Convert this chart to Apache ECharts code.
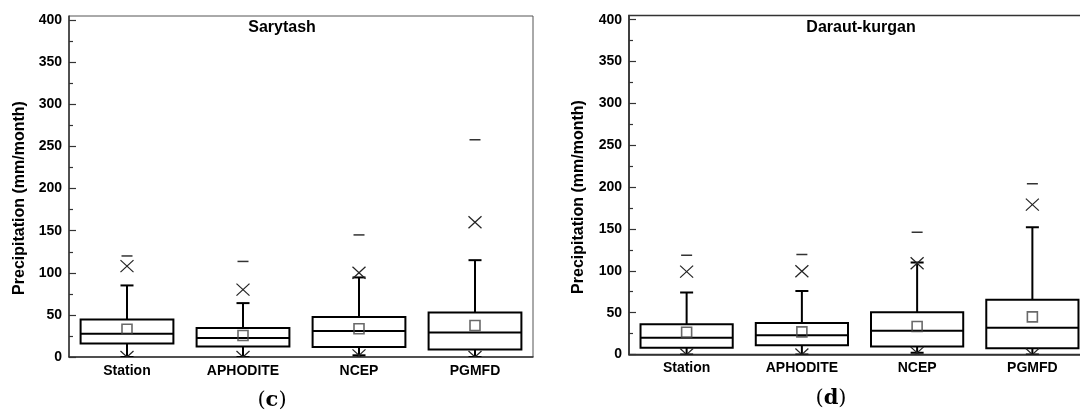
<!DOCTYPE html>
<html>
<head>
<meta charset="utf-8">
<script src="https://cdn.jsdelivr.net/npm/echarts@6/dist/echarts.min.js"></script>
<style>
  html, body { margin: 0; padding: 0; background: #fff; }
  #chart { width: 1080px; height: 414px; }
</style>
</head>
<body>
<div id="chart"></div>
<script>
var categories = ['Station', 'APHODITE', 'NCEP', 'PGMFD'];
var yTicks = [0, 50, 100, 150, 200, 250, 300, 350, 400];
var yMinorTicks = [25, 75, 125, 175, 225, 275, 325, 375];

// (c) Sarytash
var sarMax    = [120, 113.5, 145, 258];
var sarP99    = [108, 80, 100, 160];
var sarUpper  = [85, 64, 94.5, 115];
var sarQ3     = [44.5, 34.5, 47.5, 53];
var sarMedian = [27.5, 22.5, 31, 29];
var sarMean   = [33, 25.5, 33.5, 37.5];
var sarQ1     = [16, 12.5, 12, 9];
var sarLower  = [0, 0, 2, 0];
var sarP1     = [0, 0, 2, 0];

// (d) Daraut-kurgan
var darMax    = [118.5, 119.5, 146, 204];
var darP99    = [99, 99.5, 109, 179];
var darUpper  = [74, 76, 110, 152];
var darQ3     = [36, 37.5, 50.5, 65.5];
var darMedian = [20, 23, 28.5, 32];
var darMean   = [26.5, 27, 33.5, 45];
var darQ1     = [8, 11, 9.5, 7.5];
var darLower  = [0, 0, 2, 0];
var darP1     = [0, 0, 2, 0];

var FONT = 'Liberation Sans, Arial, sans-serif';

function boxData(lo, q1, med, q3, hi) {
  return categories.map(function (c, i) { return [i, lo[i], q1[i], med[i], q3[i], hi[i]]; });
}
function pointData(vals) {
  return vals.map(function (v, i) { return [i, v]; });
}

function renderBox(params, api) {
  var i = api.value(0);
  var lo = api.coord([i, api.value(1)]);
  var q1 = api.coord([i, api.value(2)]);
  var md = api.coord([i, api.value(3)]);
  var q3 = api.coord([i, api.value(4)]);
  var hi = api.coord([i, api.value(5)]);
  var bw = api.size([1, 0])[0] * 0.8;
  var cx = md[0], cap = 6.5;
  var st = { stroke: '#000', lineWidth: 2, fill: null };
  return {
    type: 'group',
    children: [
      { type: 'line', shape: { x1: cx, y1: q3[1], x2: cx, y2: hi[1] }, style: st },
      { type: 'line', shape: { x1: cx - cap, y1: hi[1], x2: cx + cap, y2: hi[1] }, style: st },
      { type: 'line', shape: { x1: cx, y1: q1[1], x2: cx, y2: lo[1] }, style: st },
      { type: 'line', shape: { x1: cx - cap, y1: lo[1], x2: cx + cap, y2: lo[1] }, style: st },
      { type: 'rect', shape: { x: cx - bw / 2, y: q3[1], width: bw, height: q1[1] - q3[1] }, style: st },
      { type: 'line', shape: { x1: cx - bw / 2, y1: md[1], x2: cx + bw / 2, y2: md[1] }, style: st }
    ]
  };
}

function renderCross(params, api) {
  var p = api.coord([api.value(0), api.value(1)]);
  var w = 6.5, h = 6;
  var st = { stroke: '#222', lineWidth: 1.2 };
  return {
    type: 'group',
    children: [
      { type: 'line', shape: { x1: p[0] - w, y1: p[1] - h, x2: p[0] + w, y2: p[1] + h }, style: st },
      { type: 'line', shape: { x1: p[0] - w, y1: p[1] + h, x2: p[0] + w, y2: p[1] - h }, style: st }
    ]
  };
}

function renderDash(params, api) {
  var p = api.coord([api.value(0), api.value(1)]);
  return {
    type: 'line',
    shape: { x1: p[0] - 5.5, y1: p[1], x2: p[0] + 5.5, y2: p[1] },
    style: { stroke: '#333', lineWidth: 1.5 }
  };
}

function makeSeries(g, d) {
  var yi = g * 2;
  return [
    { type: 'custom', xAxisIndex: g, yAxisIndex: yi, clip: true, renderItem: renderBox,
      encode: { x: 0, y: [1, 2, 3, 4, 5] }, data: boxData(d.lo, d.q1, d.med, d.q3, d.hi), silent: true },
    { type: 'custom', xAxisIndex: g, yAxisIndex: yi, clip: true, renderItem: renderCross,
      encode: { x: 0, y: 1 }, data: pointData(d.p99), silent: true },
    { type: 'custom', xAxisIndex: g, yAxisIndex: yi, clip: true, renderItem: renderCross,
      encode: { x: 0, y: 1 }, data: pointData(d.p1), silent: true },
    { type: 'custom', xAxisIndex: g, yAxisIndex: yi, clip: true, renderItem: renderDash,
      encode: { x: 0, y: 1 }, data: pointData(d.max), silent: true },
    { type: 'scatter', xAxisIndex: g, yAxisIndex: yi, data: pointData(d.mean), symbol: 'rect', symbolSize: 10,
      itemStyle: { color: 'rgba(0,0,0,0)', borderColor: '#444', borderWidth: 1.6 }, silent: true, z: 5 }
  ];
}

function makeX(g) {
  return {
    gridIndex: g, type: 'category', data: categories,
    axisLine: { lineStyle: { color: '#333', width: 1.5 } },
    axisTick: { show: false },
    axisLabel: { margin: 7, color: '#000', fontWeight: 'bold', fontSize: 14, fontFamily: FONT }
  };
}
function makeY(g) {
  return [{
    gridIndex: g, type: 'value', min: 0, max: 405, position: 'left',
    axisLine: { show: true, lineStyle: { color: '#333', width: 1.5 } },
    axisTick: { show: true, inside: true, length: 7, customValues: yTicks, lineStyle: { color: '#333', width: 1.2 } },
    axisLabel: { customValues: yTicks, margin: 7, color: '#000', fontWeight: 'bold', fontSize: 14, fontFamily: FONT },
    splitLine: { show: false }
  }, {
    gridIndex: g, type: 'value', min: 0, max: 405, position: 'left',
    axisLine: { show: false },
    axisTick: { show: true, inside: true, length: 4, customValues: yMinorTicks, lineStyle: { color: '#333', width: 1.2 } },
    axisLabel: { show: false },
    splitLine: { show: false }
  }];
}

var chart = echarts.init(document.getElementById('chart'));

var option = {
  backgroundColor: '#fff',
  animation: false,
  grid: [
    { left: 69, right: 547, top: 16, bottom: 57, show: true, borderColor: '#555', borderWidth: 1, outerBoundsMode: 'none' },
    { left: 629, right: -10, top: 15.5, bottom: 59.5, show: true, borderColor: '#333', borderWidth: 1.5, outerBoundsMode: 'none' }
  ],
  xAxis: [makeX(0), makeX(1)],
  yAxis: makeY(0).concat(makeY(1)),
  series: makeSeries(0, { lo: sarLower, q1: sarQ1, med: sarMedian, q3: sarQ3, hi: sarUpper, p99: sarP99, p1: sarP1, max: sarMax, mean: sarMean })
    .concat(makeSeries(1, { lo: darLower, q1: darQ1, med: darMedian, q3: darQ3, hi: darUpper, p99: darP99, p1: darP1, max: darMax, mean: darMean })),
  graphic: [
    { type: 'text', x: 282, y: 28, style: { text: 'Sarytash', font: 'bold 16px ' + FONT, fill: '#000', align: 'center', verticalAlign: 'middle' } },
    { type: 'text', x: 861, y: 28, style: { text: 'Daraut-kurgan', font: 'bold 16px ' + FONT, fill: '#000', align: 'center', verticalAlign: 'middle' } },
    { type: 'text', x: 20, y: 198, rotation: Math.PI / 2, style: { text: 'Precipitation (mm/month)', font: 'bold 16px ' + FONT, fill: '#000', align: 'center', verticalAlign: 'middle' } },
    { type: 'text', x: 579, y: 197, rotation: Math.PI / 2, style: { text: 'Precipitation (mm/month)', font: 'bold 16px ' + FONT, fill: '#000', align: 'center', verticalAlign: 'middle' } },
    { type: 'text', x: 272, y: 401, style: { text: '{p|(}{b|c}{p|)}', align: 'center', verticalAlign: 'middle',
      rich: { p: { fontFamily: 'DejaVu Serif', fontSize: 21, fill: '#000' }, b: { fontFamily: 'DejaVu Serif', fontSize: 21, fontWeight: 'bold', fill: '#000' } } } },
    { type: 'text', x: 831, y: 399, style: { text: '{p|(}{b|d}{p|)}', align: 'center', verticalAlign: 'middle',
      rich: { p: { fontFamily: 'DejaVu Serif', fontSize: 21, fill: '#000' }, b: { fontFamily: 'DejaVu Serif', fontSize: 21, fontWeight: 'bold', fill: '#000' } } } }
  ]
};

chart.setOption(option);
</script>
</body>
</html>
